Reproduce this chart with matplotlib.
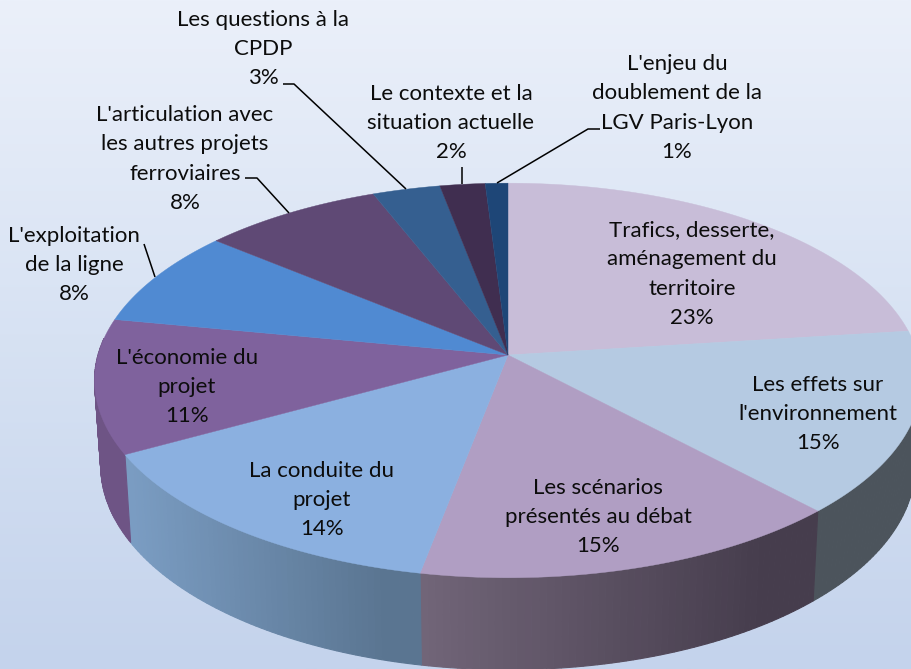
"""
Camembert 3D : répartition des thèmes abordés
"""
import numpy as np
import matplotlib
matplotlib.use('Agg')
import matplotlib.pyplot as plt
from matplotlib.patches import Polygon

plt.rcParams['font.family'] = ['Lato', 'DejaVu Sans']

labels = [
    "Trafics, desserte,\naménagement du\nterritoire",
    "Les effets sur\nl'environnement",
    "Les scénarios\nprésentés au débat",
    "La conduite du\nprojet",
    "L'économie du\nprojet",
    "L'exploitation\nde la ligne",
    "L'articulation avec\nles autres projets\nferroviaires",
    "Les questions à la\nCPDP",
    "Le contexte et la\nsituation actuelle",
    "L'enjeu du\ndoublement de la\nLGV Paris-Lyon",
]
values = [23, 15, 15, 14, 11, 8, 8, 3, 2, 1]
top_colors = ['#c8bdd8', '#b5cae2', '#b09ec3', '#8bb0e0', '#7f629d',
              '#508ad2', '#5f4975', '#355f90', '#402e50', '#1e4677']
side_left = ['#4c545c', '#4c545c', '#716578', '#7a9cc2', '#6e5485',
             '#6e5485', '#4c3c60', '#2c4e78', '#342640', '#183a60']
side_right = ['#4c545c', '#4c545c', '#463d4d', '#5a7591', '#6e5485',
              '#6e5485', '#4c3c60', '#2c4e78', '#342640', '#183a60']
label_pos = [(692, 274), (818, 414), (598, 517), (322, 500), (187, 387),
             (74, 265), (185, 159), (263, 49), (451, 123), (677, 108)]
leaders = [
    [(144, 244), (155, 277)],
    [(245, 178), (257, 178), (289, 213)],
    [(283, 84), (294, 84), (406, 189)],
    [(462, 167), (462, 184)],
    [(600, 129), (588, 129), (497, 183)],
]

# géométrie de la projection (pixels)
CX, CY = 508, 355
RX, RY = 410, 194
PERSP = 0.129


def project(theta):
    """angle (radians, sens horaire depuis le haut) -> bord supérieur"""
    xs, ys = np.sin(theta), np.cos(theta)
    w = 1 + PERSP * ys
    return CX + RX * xs / w, CY - RY * ys / w


def project_low(theta):
    """bord inférieur de la tranche"""
    x, y = project(theta)
    return CX + (x - CX) * 0.985, y + 84 - 8 * np.cos(theta)


def hex_rgb(c):
    return np.array(matplotlib.colors.to_rgb(c))


fig = plt.figure(figsize=(9.12, 6.69), dpi=100)
ax = fig.add_axes([0, 0, 1, 1])
ax.set_xlim(0, 912)
ax.set_ylim(669, 0)
ax.axis('off')

# fond dégradé
grad = np.linspace(0, 1, 256).reshape(-1, 1)
c1, c2, c3 = hex_rgb('#ebf0fa'), hex_rgb('#d7e2f3'), hex_rgb('#c4d3ec')
bg = np.where(grad < 0.5, c1 + (c2 - c1) * grad * 2, c2 + (c3 - c2) * (grad - 0.5) * 2)
ax.imshow(bg.reshape(256, 1, 3), extent=(0, 912, 669, 0), aspect='auto', zorder=0)

fractions = np.cumsum([0] + values) / sum(values)
angles = 2 * np.pi * fractions

# faces latérales
for i in range(len(values)):
    a1, a2 = angles[i], angles[i + 1]
    lo, hi = max(a1, np.radians(85)), min(a2, np.radians(275))
    if lo >= hi:
        continue
    # x du début (droite) et de la fin (gauche) de la tranche, pour le dégradé
    x_right = project_low(np.array(lo))[0]
    x_left = project_low(np.array(hi))[0]
    edges = np.linspace(lo, hi, 60)
    cl, cr = hex_rgb(side_left[i]), hex_rgb(side_right[i])
    for t1, t2 in zip(edges[:-1], edges[1:]):
        xa, ya = project(t1)
        xb, yb = project(t2)
        xc, yc = project_low(t2)
        xd, yd = project_low(t1)
        t = ((xa + xb) / 2 - x_left) / max(x_right - x_left, 1)
        col = cl + (cr - cl) * np.clip(t * 1.15, 0, 1)
        ax.add_patch(Polygon([(xa, ya), (xb, yb), (xc, yc), (xd, yd)],
                             facecolor=col, edgecolor=col, linewidth=0.8, zorder=1))

# face supérieure
for i in range(len(values)):
    th = np.linspace(angles[i], angles[i + 1], 80)
    xs, ys = project(th)
    pts = [(CX, CY)] + list(zip(xs, ys))
    ax.add_patch(Polygon(pts, facecolor=top_colors[i], edgecolor=top_colors[i],
                         linewidth=0.3, zorder=2))

# traits de rappel
for pts in leaders:
    ax.plot([p[0] for p in pts], [p[1] for p in pts], color='black', lw=1.1, zorder=3,
            solid_capstyle='butt')

# étiquettes
for lab, v, pos in zip(labels, values, label_pos):
    ax.text(pos[0], pos[1], f'{lab}\n{v}%', ha='center', va='center', fontsize=16,
            color='#0c0c0c', linespacing=1.57, zorder=4)

plt.savefig('out.png', dpi=100)
plt.close()
